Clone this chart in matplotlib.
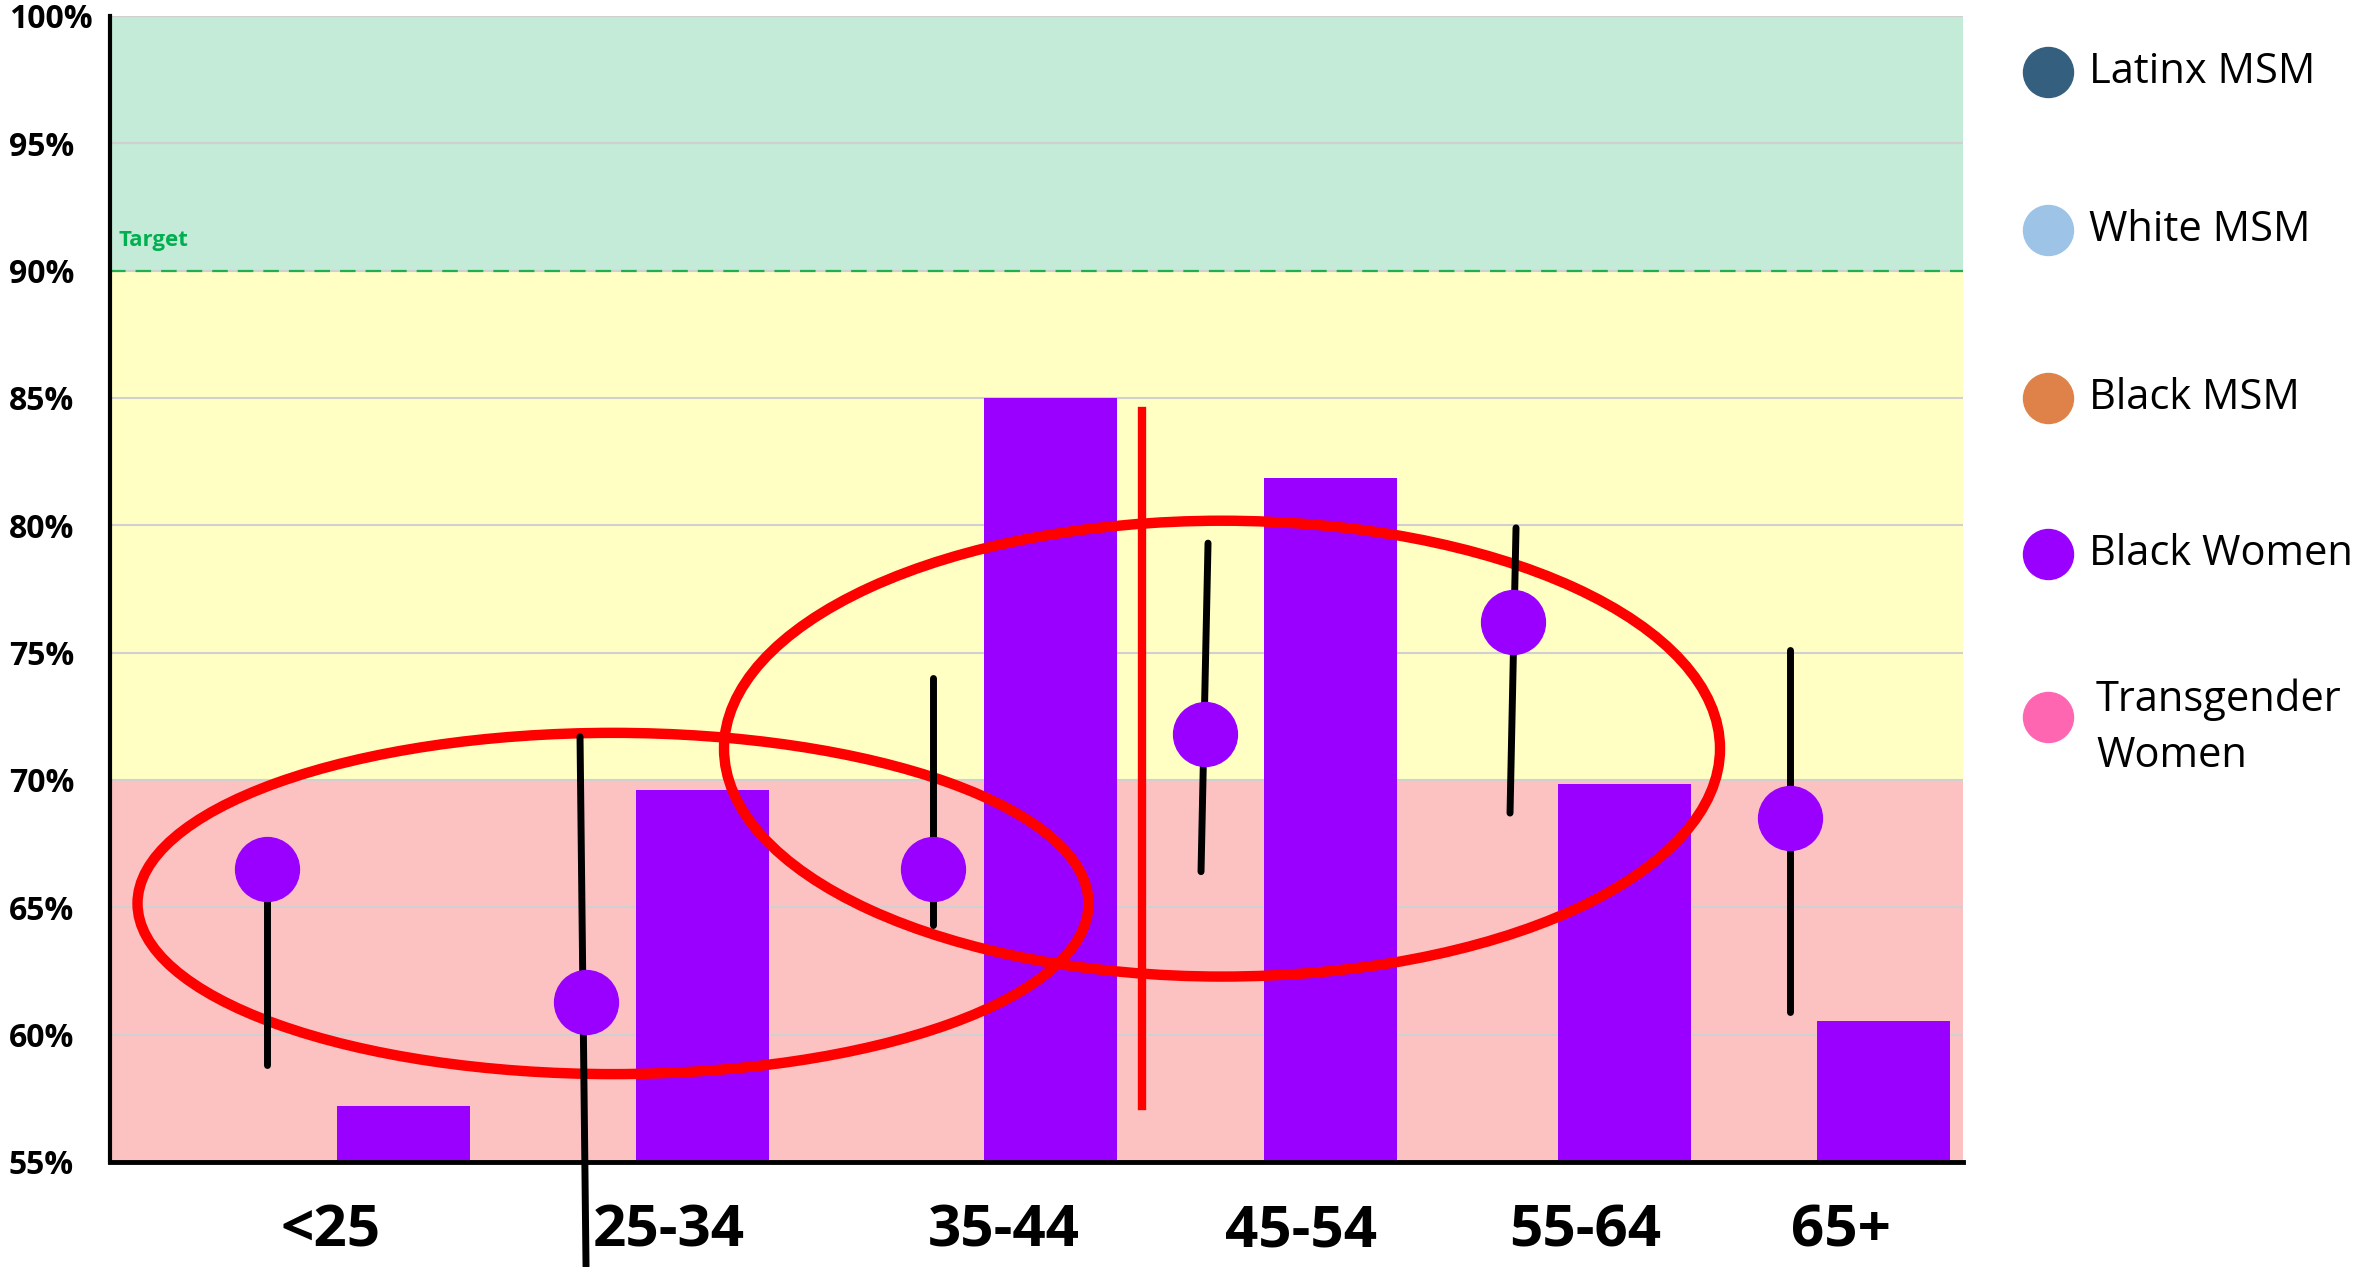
import matplotlib.pyplot as plt
from matplotlib.patches import Ellipse
from matplotlib.lines import Line2D

# values (percent)
age_groups = ['<25', '25-34', '35-44', '45-54', '55-64', '65+']
bar_values = [57.2, 69.6, 85.0, 81.85, 69.85, 60.55]
dot_values = [66.5, 61.3, 66.5, 71.8, 76.2, 68.5]
range_top = [66.5, 71.7, 74.0, 79.3, 79.9, 75.1]
range_bottom = [58.8, 50.9, 64.3, 66.4, 68.7, 60.9]
target = 90
y_ticks = [55, 60, 65, 70, 75, 80, 85, 90, 95, 100]
legend_names = ['Latinx MSM', 'White MSM', 'Black MSM', 'Black Women', 'Transgender\nWomen']
legend_colors = ['#355F7E', '#9DC3E6', '#DF8249', '#9900FF', '#FF66B2']

# hand placed x positions (plot units)
bar_x = [2.93, 5.92, 9.40, 12.20, 15.14, 17.73]
dot_x = [1.57, 4.76, 8.23, 10.95, 14.03, 16.80]
line_x_top = [1.57, 4.70, 8.23, 10.98, 14.06, 16.80]
line_x_bot = [1.57, 4.76, 8.23, 10.91, 14.00, 16.80]
label_x = [2.21, 5.59, 8.94, 11.91, 14.75, 17.31]

purple = '#9900FF'
font = ['Open Sans', 'DejaVu Sans']

fig = plt.figure(figsize=(23.56, 12.67), dpi=100)
ax = fig.add_axes([0.0467, 0.0829, 0.7865, 0.9045])
ax.set_xlim(0, 18.53)
ax.set_ylim(55, 100)

# background bands
ax.axhspan(90, 100, color='#C3EBD7', zorder=0, lw=0)
ax.axhspan(70, 90, color='#FFFFC4', zorder=0, lw=0)
ax.axhspan(55, 70, color='#FCC2C2', zorder=0, lw=0)
for t in y_ticks[1:]:
    ax.axhline(t, color='#D0D0D0', lw=1.5, zorder=1)

ax.axhline(target, color='#1FAF52', lw=1.6, ls=(0, (7, 4.5)), zorder=2)
ax.text(0.08, 91.2, 'Target', color='#00B050', fontsize=16, fontweight='bold',
        family=font, va='center', ha='left', zorder=2)

ax.bar(bar_x, [v - 55 for v in bar_values], bottom=55, width=1.33,
       color=purple, zorder=3)

ax.add_patch(Ellipse((5.03, 65.15), 9.51, 13.4, fill=False, ec='#FF0000', lw=7.5, zorder=3.5))
ax.add_patch(Ellipse((11.12, 71.23), 9.96, 17.9, fill=False, ec='#FF0000', lw=7.5, zorder=3.5))

for i in range(len(age_groups)):
    ax.plot([line_x_top[i], line_x_bot[i]], [range_top[i], range_bottom[i]],
            color='black', lw=5, solid_capstyle='round', zorder=4, clip_on=False)
ax.plot(dot_x, dot_values, 'o', ms=46, color=purple, mec=purple, zorder=4.5, ls='none')

ax.plot([10.32, 10.32], [84.5, 57.2], color='#FF0000', lw=6, zorder=5)

for s in ['top', 'right']:
    ax.spines[s].set_visible(False)
ax.spines['left'].set_linewidth(3)
ax.spines['bottom'].set_linewidth(3.5)
ax.spines['left'].set_zorder(6)
ax.spines['bottom'].set_zorder(6)

ax.set_yticks(y_ticks, [f'{t}%' for t in y_ticks])
ax.tick_params(axis='y', length=0, pad=73)
for lab in ax.get_yticklabels():
    lab.set_ha('left')
    lab.set_fontsize(23)
    lab.set_fontweight('bold')
    lab.set_family(font)

ax.set_xticks(label_x, age_groups)
ax.tick_params(axis='x', length=0, pad=29)
for lab in ax.get_xticklabels():
    lab.set_fontsize(42)
    lab.set_fontweight('bold')
    lab.set_family(font)

# legend drawn by hand on the right
legend_y = [72, 230, 398, 554, 717]
for name, col, yp in zip(legend_names, legend_colors, legend_y):
    yf = 1 - yp / 1267
    fig.add_artist(Line2D([2048 / 2356], [yf], marker='o', ms=36, color=col,
                          mec=col, ls='none', transform=fig.transFigure))
    if '\n' in name:
        fig.text(2096 / 2356, 1 - 728 / 1267, name, fontsize=30, family=font,
                 va='center', ha='left', linespacing=1.45)
    else:
        fig.text(2089 / 2356, yf, name, fontsize=30, family=font,
                 va='center', ha='left')

fig.savefig('out.png', dpi=100)
